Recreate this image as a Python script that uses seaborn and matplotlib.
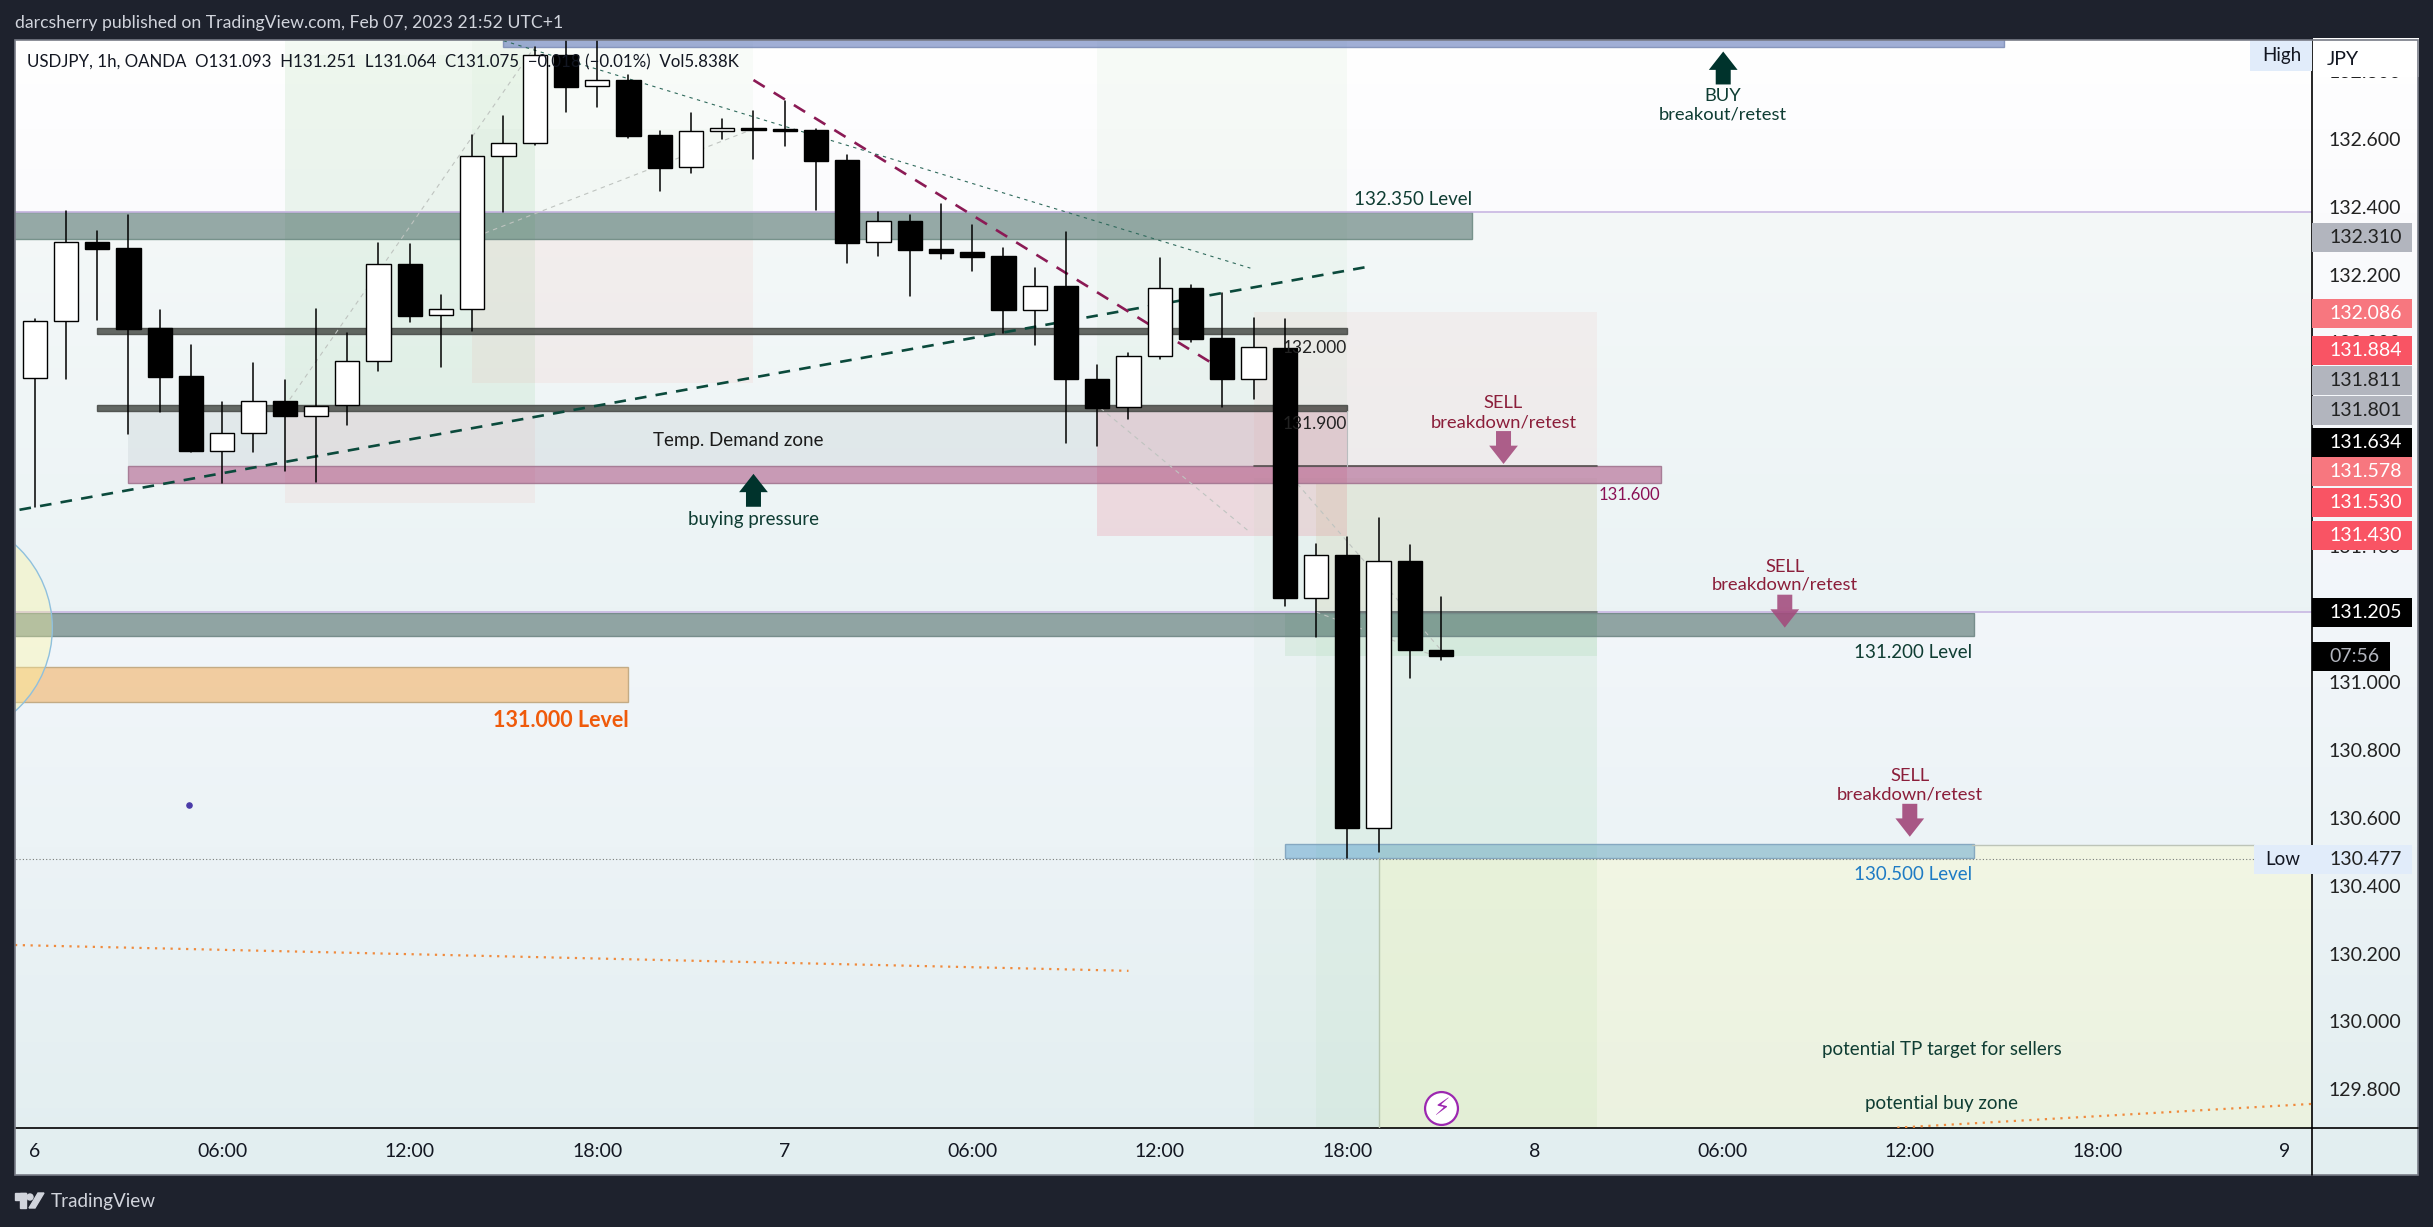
import numpy as np
import pandas as pd
import matplotlib
matplotlib.use("Agg")
import matplotlib.pyplot as plt
from matplotlib.colors import LinearSegmentedColormap, to_rgba
from matplotlib.patches import Rectangle, Ellipse, Polygon
import seaborn as sns

sns.set_theme(style="white")
plt.rcParams['font.family'] = ['Lato', 'DejaVu Sans']

W, H = 2433, 1227
FRAME = '#1E222D'

# candles, hourly from Feb 6 00:00 (x is hours since then)
opens = [131.894, 132.062, 132.295, 132.278, 132.042, 131.900, 131.681, 131.732, 131.827, 131.783,
         131.815, 131.945, 132.230, 132.080, 132.098, 132.548, 132.587, 132.846, 132.755, 132.772,
         132.611, 132.516, 132.622, 132.631, 132.629, 132.626, 132.537, 132.295, 132.357, 132.275,
         132.266, 132.254, 132.097, 132.165, 131.891, 131.809, 131.959, 132.160, 132.012, 131.891,
         131.985, 131.246, 131.373, 130.571, 131.355, 131.093]
highs = [132.068, 132.387, 132.328, 132.376, 132.096, 131.993, 131.825, 131.939, 131.890, 132.099,
         132.027, 132.293, 132.290, 132.140, 132.611, 132.666, 132.871, 132.930, 132.930, 132.787,
         132.623, 132.675, 132.658, 132.681, 132.710, 132.629, 132.552, 132.384, 132.376, 132.408,
         132.346, 132.278, 132.219, 132.325, 131.934, 131.968, 132.249, 132.168, 132.145, 132.072,
         132.069, 131.406, 131.426, 131.483, 131.404, 131.251]
lows = [131.516, 131.893, 132.066, 131.730, 131.796, 131.678, 131.587, 131.678, 131.622, 131.590,
        131.758, 131.917, 132.061, 131.929, 132.035, 132.384, 132.583, 132.680, 132.695, 132.603,
        132.447, 132.500, 132.600, 132.541, 132.580, 132.390, 132.235, 132.256, 132.138, 132.247,
        132.211, 132.027, 131.994, 131.705, 131.696, 131.774, 131.952, 132.000, 131.811, 131.833,
        131.223, 131.133, 130.482, 130.499, 131.012, 131.064]
closes = [132.062, 132.295, 132.276, 132.041, 131.899, 131.681, 131.732, 131.827, 131.782, 131.814,
          131.945, 132.230, 132.079, 132.098, 132.548, 132.587, 132.846, 132.754, 132.772, 132.609,
          132.515, 132.622, 132.631, 132.627, 132.624, 132.536, 132.294, 132.357, 132.273, 132.265,
          132.253, 132.097, 132.165, 131.891, 131.808, 131.959, 132.160, 132.011, 131.891, 131.986,
          131.246, 131.373, 130.571, 131.355, 131.093, 131.075]

price_ticks = [129.8, 130.0, 130.2, 130.4, 130.6, 130.8, 131.0, 131.2, 131.4, 131.6,
               131.8, 132.0, 132.2, 132.4, 132.6, 132.8]
time_ticks = [0, 6, 12, 18, 24, 30, 36, 42, 48, 54, 60, 66, 72]
time_labels = ['6', '06:00', '12:00', '18:00', '7', '06:00', '12:00', '18:00', '8',
               '06:00', '12:00', '18:00', '9']

# price tags on the right scale, stacked so they sit away from their real price
tag_labels = ['132.310', '132.086', '131.884', '131.811', '131.801', '131.634',
              '131.578', '131.530', '131.430', '131.205']
tag_places = [132.309, 132.086, 131.975, 131.887, 131.801, 131.704, 131.619, 131.530, 131.430, 131.205]
tag_fills = ['#B2B5BE', '#F7777F', '#F95464', '#B2B5BE', '#B2B5BE', '#000000',
             '#F7777F', '#F95464', '#F95464', '#000000']
tag_inks = ['#222222', '#FFFFFF', '#FFFFFF', '#222222', '#222222', '#FFFFFF',
            '#FFFFFF', '#FFFFFF', '#FFFFFF', '#FFFFFF']

XMIN, XMAX = -0.63, 72.87
YMIN, YMAX = 129.686, 132.891
TOP, BOT = 133.2, 129.5


def frac_rect(x0, y0, x1, y1):
    return [x0 / W, 1 - y1 / H, (x1 - x0) / W, (y1 - y0) / H]


fig = plt.figure(figsize=(W / 100, H / 100), dpi=100, facecolor=FRAME)

# gradient panel behind the pane and both scales
bg = fig.add_axes(frac_rect(15, 40, 2418, 1175), zorder=0)
grad = LinearSegmentedColormap.from_list('pane', [(0, '#FFFFFF'), (0.15, '#FBFBFD'), (0.5, '#F2F6FA'),
                                                  (0.71, '#ECF3F6'), (1, '#E2EEF0')])
bg.imshow(np.linspace(0, 1, 256).reshape(-1, 1), cmap=grad, aspect='auto', vmin=0, vmax=1)
bg.set_axis_off()

ax = fig.add_axes(frac_rect(15, 40, 2312, 1128), zorder=1)
ax.patch.set_alpha(0)


def zone(x0, x1, p0, p1, color, alpha, edge=None, z=1):
    ec = to_rgba(edge, 0.9) if edge else 'none'
    ax.add_patch(Rectangle((x0, p0), x1 - x0, p1 - p0, facecolor=to_rgba(color, alpha),
                           edgecolor=ec, linewidth=1.0, zorder=z))


def line(xs, ys, color, lw, ls='-', z=4):
    seg = pd.DataFrame({'x': xs, 'y': ys})
    sns.lineplot(data=seg, x='x', y='y', color=color, linewidth=lw, linestyle=ls, zorder=z,
                 sort=False, estimator=None, errorbar=None, ax=ax)


def arrow(x, tip, direction, color, alpha=1.0):
    # block arrow, 33 px tall and 29 px wide on the price/time scales
    head, full = 0.054 * direction, 0.097 * direction
    hw, sw = 0.46, 0.24
    pts = [(x, tip), (x + hw, tip - head), (x + sw, tip - head), (x + sw, tip - full),
           (x - sw, tip - full), (x - sw, tip - head), (x - hw, tip - head)]
    ax.add_patch(Polygon(pts, closed=True, facecolor=to_rgba(color, alpha), edgecolor='none', zorder=7))


def label(x, y, s, color, size=13.2, ha='center', weight='normal'):
    ax.text(x, y, s, color=color, fontsize=size, ha=ha, va='center', fontweight=weight, zorder=8)


# time/price zones
zone(-2, 75, 131.205, 132.384, '#3DBB78', 0.035)
zone(8, 16, 131.815, TOP, '#6CC070', 0.07)
zone(8, 16, 131.815, 132.847, '#6CC070', 0.04)
zone(8, 16, 131.528, 131.815, '#F06A5E', 0.07)
zone(14, 23, 132.629, TOP, '#6CC070', 0.035)
zone(14, 23, 132.305, 132.629, '#6CC070', 0.06)
zone(14, 23, 131.882, 132.305, '#F06A5E', 0.07)
zone(34, 42, 131.813, TOP, '#6CC070', 0.05)
zone(34, 42, 131.430, 131.813, '#E8607A', 0.18)
zone(39, 50, 131.637, 132.090, '#F08070', 0.07)
zone(3, 42, 131.637, 131.799, '#8F9AA3', 0.14)
zone(39, 50, BOT, 131.600, '#6CC070', 0.04)
zone(41, 50, 131.205, 131.583, '#B9A05A', 0.12)
zone(41, 50, BOT, 131.205, '#6CC070', 0.06)
zone(40, 50, 131.077, 131.205, '#6CC070', 0.12)
zone(43, 75, BOT, 130.520, '#FFFCBB', 0.30)

# level bands
zone(15, 63, 132.871, TOP, '#5C74B8', 0.58, edge='#7F8FB8', z=2)
zone(-2, 46, 132.305, 132.384, '#234A44', 0.45, edge='#6F8C84', z=2)
zone(-2, 62.05, 131.136, 131.202, '#234A44', 0.47, edge='#6F8785', z=2)
zone(40, 62.05, 130.480, 130.522, '#3A8EC8', 0.40, edge='#7FA3BD', z=2)
zone(-2, 19, 130.940, 131.043, '#F2A54A', 0.50, edge='#BFA67E', z=2)
zone(3, 52.03, 131.586, 131.637, '#A0386F', 0.48, edge='#A27590', z=2)
zone(2, 42, 132.026, 132.042, '#3B3F3A', 0.78, edge='#4A4D4A', z=2)
zone(2, 42, 131.799, 131.815, '#3B3F3A', 0.78, edge='#4A4D4A', z=2)

ax.add_patch(Ellipse((-3.01, 131.159), 7.15, 0.658, facecolor=to_rgba('#FDF59A', 0.35),
                     edgecolor='#8FC0DD', linewidth=1.0, zorder=3))

# thin rules
line([-2, 75], [132.384, 132.384], '#C8B6E2', 1.2, z=2)
line([-2, 75], [131.205, 131.205], '#C8B6E2', 1.2, z=2)
line([39, 50], [131.637, 131.637], '#55504F', 1.2, z=3)
line([41, 50], [131.205, 131.205], '#5F6E66', 1.2, z=3)
line([62, 71], [130.520, 130.520], '#BDC4B8', 1.0, z=3)
line([42, 42], [131.637, 131.799], '#B9BDBF', 0.8, z=3)
line([43, 43], [BOT, 130.480], '#B8C8B0', 1.0, z=3)
line([-2, 71], [130.477, 130.477], '#777B78', 0.8, ls=(0, (1, 2)), z=3)

# drawn trend lines
line([-2, 42.6], [131.482, 132.222], '#0B4A3C', 1.9, ls=(0, (4.4, 3.5)))
line([23, 37.6], [132.773, 131.943], '#8B1A55', 1.9, ls=(0, (5, 4)))
line([15, 38.9], [132.889, 132.219], '#2F6A5C', 0.8, ls=(0, (3, 4)))
line([-0.63, 35], [130.225, 130.149], '#F08A3C', 1.6, ls=(0, (1, 2.5)))
line([59.6, 72.87], [129.687, 129.757], '#F08A3C', 1.6, ls=(0, (1, 2.5)))
for xs, ys in [([8, 16], [131.811, 132.871]), ([14.4, 23], [132.322, 132.629]),
               ([34.1, 38.9], [131.807, 131.44]), ([40.4, 45], [131.584, 131.094]),
               ([41, 45], [131.206, 131.07])]:
    line(xs, ys, '#BFC4C0', 0.8, ls=(0, (4, 4)))

# candles
candles = pd.DataFrame({'hour': np.arange(len(opens), dtype=float), 'open': opens, 'high': highs,
                        'low': lows, 'close': closes})
candles['bottom'] = candles[['open', 'close']].min(axis=1)
candles['size'] = (candles['close'] - candles['open']).abs()
wicks = candles.melt(id_vars='hour', value_vars=['high', 'low'], value_name='price')
sns.lineplot(data=wicks, x='hour', y='price', units='hour', estimator=None, sort=False,
             color='black', linewidth=1.1, zorder=5, ax=ax)
for rising, fill in [(True, 'white'), (False, 'black')]:
    part = candles[(candles['close'] > candles['open']) == rising]
    sns.barplot(data=part, x='hour', y='size', bottom=part['bottom'].values, native_scale=True,
                width=0.78, color=fill, saturation=1, edgecolor='black', linewidth=1.0,
                errorbar=None, zorder=6, ax=ax)

# arrows
arrow(54.03, 132.857, 1, '#00332C')
arrow(23, 131.613, 1, '#00332C')
arrow(47, 131.642, -1, '#A34A7C', 0.88)
arrow(56, 131.160, -1, '#A34A7C', 0.88)
arrow(60, 130.544, -1, '#A34A7C', 0.92)

# chart notes
DARK, WINE = '#0F3D33', '#8B1E3A'
label(46, 132.421, '132.350 Level', DARK, size=13.5, ha='right')
label(62, 131.088, '131.200 Level', DARK, size=13.5, ha='right')
label(62, 130.434, '130.500 Level', '#1E7BC4', size=13.5, ha='right')
label(19, 130.885, '131.000 Level', '#EF5A0B', size=15.5, ha='right', weight='bold')
label(52, 131.551, '131.600', '#8A1055', size=12, ha='right')
label(42, 131.985, '132.000', '#222222', size=12.5, ha='right')
label(42, 131.760, '131.900', '#222222', size=12.5, ha='right')
label(47, 131.822, 'SELL', WINE)
label(47, 131.764, 'breakdown/retest', WINE)
label(56, 131.340, 'SELL', WINE)
label(56, 131.287, 'breakdown/retest', WINE)
label(60, 130.722, 'SELL', WINE)
label(60, 130.669, 'breakdown/retest', WINE)
label(54.03, 132.726, 'BUY', DARK)
label(54.03, 132.673, 'breakout/retest', DARK)
label(22.5, 131.712, 'Temp. Demand zone', '#1A1A1A', size=13.5)
label(23, 131.478, 'buying pressure', DARK, size=13.5)
label(61.03, 129.916, 'potential TP target for sellers', DARK, size=13.5)
label(61.03, 129.757, 'potential buy zone', DARK, size=13.5)
ax.text(-0.25, 132.826, 'USDJPY, 1h, OANDA  O131.093  H131.251  L131.064  C131.075  −0.018 (−0.01%)  Vol5.838K',
        color='#131722', fontsize=12.2, ha='left', va='center', zorder=9)

ax.scatter([4.94], [130.638], s=14, color='#4A3AA8', zorder=7)
ax.scatter([45], [129.746], s=560, facecolor='white', edgecolor='#9C27B0', linewidth=1.6, zorder=7)
ax.text(45, 129.746, '⚡', color='#9C27B0', fontsize=17, family='DejaVu Sans', ha='center', va='center', zorder=8)

# axes
ax.set_xlim(XMIN, XMAX)
ax.set_ylim(YMIN, YMAX)
ax.set_xlabel('')
ax.set_ylabel('')
ax.set_xticks(time_ticks, time_labels)
ax.yaxis.tick_right()
ax.set_yticks(price_ticks, [f'{p:.3f}' for p in price_ticks])
ax.tick_params(axis='x', length=0, pad=11, labelsize=14, labelcolor='#131722')
ax.tick_params(axis='y', length=0, pad=12, labelsize=14, labelcolor='#222222')
for name, spine in ax.spines.items():
    spine.set_visible(name in ('right', 'bottom'))
    spine.set_color('black')
    spine.set_linewidth(1.2)

# price scale tags, x is a fraction of the pane width
trans = ax.get_yaxis_transform(which='grid')
TAG_W, TAG_H = 0.0435, 0.0854
for place, text, fill, ink in zip(tag_places, tag_labels, tag_fills, tag_inks):
    ax.add_patch(Rectangle((1.0, place - TAG_H / 2), TAG_W, TAG_H, transform=trans, facecolor=fill,
                           edgecolor='none', clip_on=False, zorder=10))
    ax.text(1.0074, place, text, transform=trans, color=ink, fontsize=14, ha='left', va='center',
            clip_on=False, zorder=11)
ax.add_patch(Rectangle((1.0, 131.032), 0.034, 0.0855, transform=trans, facecolor='black',
                       edgecolor='none', clip_on=False, zorder=10))
ax.text(1.0074, 131.075, '07:56', transform=trans, color='#B2B5BE', fontsize=14, ha='left', va='center',
        clip_on=False, zorder=11)
ax.add_patch(Rectangle((1.0, 130.477 - TAG_H / 2), TAG_W, TAG_H, transform=trans, facecolor='#E1ECFA',
                       edgecolor='none', clip_on=False, zorder=10))
ax.text(1.0074, 130.477, '130.477', transform=trans, color='#222222', fontsize=14, ha='left', va='center',
        clip_on=False, zorder=11)
ax.add_patch(Rectangle((71, 130.477 - TAG_H / 2), 1.87, TAG_H, facecolor='#E1ECFA', edgecolor='none', zorder=9))
ax.text(71.95, 130.477, 'Low', color='#131722', fontsize=13.5, ha='center', va='center', zorder=11)
ax.add_patch(Rectangle((70.9, 132.80), 1.97, 0.1, facecolor='#E1ECFA', edgecolor='none', zorder=9))
ax.text(71.9, 132.845, 'High', color='#131722', fontsize=13.5, ha='center', va='center', zorder=11)
# JPY header hides the top scale label
ax.add_patch(Rectangle((1.0006, 132.782), 0.046, 0.115, transform=trans, facecolor='white', edgecolor='none',
                       clip_on=False, zorder=10))
ax.text(1.0065, 132.834, 'JPY', transform=trans, color='#131722', fontsize=14, ha='left', va='center',
        clip_on=False, zorder=11)

# outline of the whole chart and the time scale line
fig.add_artist(Rectangle((15 / W, 1 - 1175 / H), 2403 / W, 1135 / H, transform=fig.transFigure,
                         facecolor='none', edgecolor='#787B86', linewidth=1.2, zorder=20))
fig.add_artist(plt.Line2D([2312 / W, 2418 / W], [1 - 1128 / H] * 2, color='black', linewidth=1.2, zorder=20))
fig.add_artist(plt.Line2D([2312 / W, 2312 / W], [1 - 1175 / H, 1 - 1128 / H], color='black', linewidth=1.2, zorder=20))

# header and footer
fig.text(15 / W, 1 - 23 / H, 'darcsherry published on TradingView.com, Feb 07, 2023 21:52 UTC+1',
         color='#D1D4DC', fontsize=12.7, ha='left', va='center')
fig.text(51 / W, 1 - 1202 / H, 'TradingView', color='#D1D4DC', fontsize=13.6, ha='left', va='center')
logo = '#D1D4DC'
fig.add_artist(Rectangle((15 / W, 1 - 1200 / H), 11 / W, 7 / H, transform=fig.transFigure, color=logo))
fig.add_artist(Rectangle((20 / W, 1 - 1208 / H), 6 / W, 15 / H, transform=fig.transFigure, color=logo))
fig.add_artist(Ellipse((30 / W, 1 - 1197 / H), 6 / W, 6 / H, transform=fig.transFigure, color=logo))
fig.add_artist(Polygon([(35 / W, 1 - 1208 / H), (29 / W, 1 - 1208 / H), (38 / W, 1 - 1193 / H), (44 / W, 1 - 1193 / H)],
                       closed=True, transform=fig.transFigure, color=logo))

fig.savefig('out.png', dpi=100, facecolor=FRAME)
